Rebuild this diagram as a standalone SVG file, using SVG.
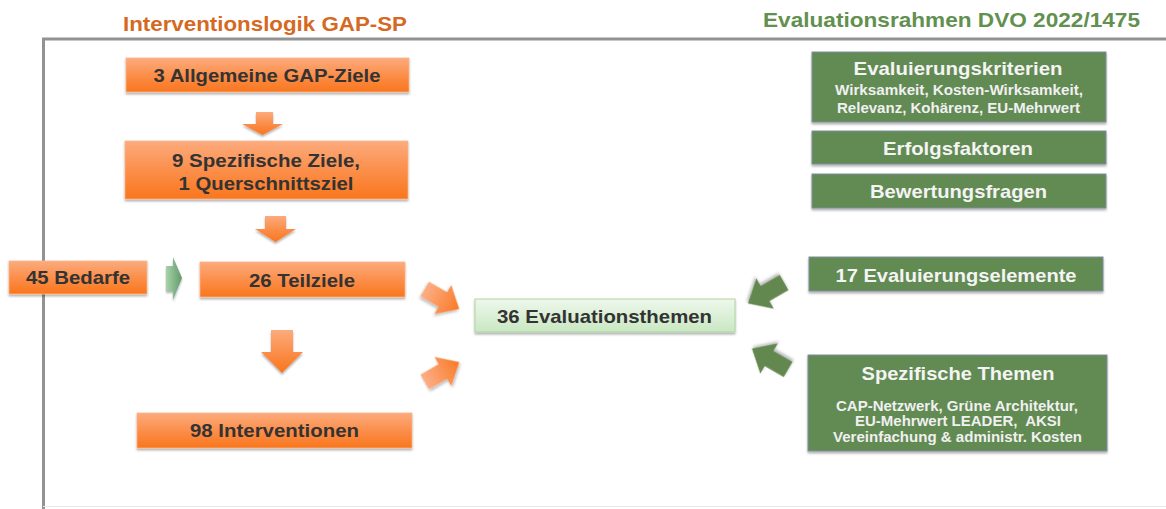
<svg xmlns="http://www.w3.org/2000/svg" xmlns:xlink="http://www.w3.org/1999/xlink" width="1166" height="509" viewBox="0 0 1166 509">
<defs>
<style>
text{font-family:"Liberation Sans",Arial,sans-serif;font-weight:bold;text-anchor:middle}
.ot{fill:#333333;font-size:19px}
.gt{fill:#f4f4f4;font-size:18.5px}
.gs{fill:#f0f0f0;font-size:14px}
.ob{fill:url(#og);stroke:#f9b48a;stroke-width:0.8;filter:url(#sh)}
.gb{fill:#628a53;stroke:#7d8e9e;stroke-width:1;filter:url(#sh)}
.frame{stroke:#929292;stroke-width:3;fill:none}
</style>
<linearGradient id="og" x1="0" y1="0" x2="0" y2="1">
<stop offset="0" stop-color="#fcab7d"/>
<stop offset="0.55" stop-color="#fb8c46"/>
<stop offset="1" stop-color="#f9761d"/>
</linearGradient>
<linearGradient id="oa" x1="0" y1="0" x2="1" y2="0">
<stop offset="0" stop-color="#fcae86"/>
<stop offset="1" stop-color="#f97a26"/>
</linearGradient>
<linearGradient id="lg" x1="0" y1="0" x2="0" y2="1">
<stop offset="0" stop-color="#eef8ec"/>
<stop offset="1" stop-color="#c9e7c2"/>
</linearGradient>
<linearGradient id="ga" x1="0" y1="0" x2="1" y2="0">
<stop offset="0" stop-color="#a9d3a9"/>
<stop offset="1" stop-color="#5f9a6c"/>
</linearGradient>
<filter id="sh" x="-5%" y="-20%" width="110%" height="150%">
<feDropShadow dx="0" dy="2" stdDeviation="1.3" flood-color="#000" flood-opacity="0.3"/>
</filter>
<path id="blk" d="M-19,-8 L1,-8 L1,-16 L19,0 L1,16 L1,8 L-19,8 Z"/>
</defs>

<g id="frame">
<line class="frame" x1="42" y1="39" x2="1166" y2="39"/>
<line class="frame" x1="43.5" y1="38" x2="43.5" y2="509"/>
<line x1="43" y1="506.5" x2="1166" y2="506.5" stroke="#e8e8e8" stroke-width="1"/>
</g>

<g id="titles">
<text x="265" y="31" font-size="20.5" fill="#d5691f" textLength="284" lengthAdjust="spacingAndGlyphs">Interventionslogik GAP-SP</text>
<text x="951.5" y="27" font-size="20.5" fill="#62904f" textLength="377" lengthAdjust="spacingAndGlyphs">Evaluationsrahmen DVO 2022/1475</text>
</g>

<g id="connectors">
<polygon points="256,112 273,112 273,124 283,124 262.5,135 242,124 256,124" fill="url(#og)" filter="url(#sh)"/>
<polygon points="265,216 286,216 286,229 296,229 275.5,242 255,229 265,229" fill="url(#og)" filter="url(#sh)"/>
<polygon points="271,330 293,330 293,352 303,352 282,373 261,352 271,352" fill="url(#og)" filter="url(#sh)"/>
<polygon points="166,266 173,266 173,257 182,278 173,300 173,291 166,291" fill="url(#ga)" filter="url(#sh)"/>
<use xlink:href="#blk" transform="translate(442,299) rotate(30) scale(1.05)" fill="url(#oa)" filter="url(#sh)"/>
<use xlink:href="#blk" transform="translate(442,372) rotate(-30) scale(1.05)" fill="url(#oa)" filter="url(#sh)"/>
<use xlink:href="#blk" transform="translate(766,293) rotate(150) scale(1.1)" fill="#62874f" filter="url(#sh)"/>
<use xlink:href="#blk" transform="translate(770,359) rotate(210) scale(1.1)" fill="#62874f" filter="url(#sh)"/>
</g>

<g id="n-ziele">
<rect class="ob" x="126" y="58" width="283" height="34"/>
<text class="ot" x="267" y="81.5" textLength="227" lengthAdjust="spacingAndGlyphs">3 Allgemeine GAP-Ziele</text>
</g>
<g id="n-spezifisch">
<rect class="ob" x="125" y="141" width="283" height="58"/>
<text class="ot" x="266" y="166.5" textLength="188" lengthAdjust="spacingAndGlyphs">9 Spezifische Ziele,</text>
<text class="ot" x="266" y="190" textLength="175" lengthAdjust="spacingAndGlyphs">1 Querschnittsziel</text>
</g>
<g id="n-bedarfe">
<rect class="ob" x="9" y="261" width="138" height="33"/>
<text class="ot" x="78" y="284" textLength="104" lengthAdjust="spacingAndGlyphs">45 Bedarfe</text>
</g>
<g id="n-teilziele">
<rect class="ob" x="200" y="262" width="205" height="35"/>
<text class="ot" x="302" y="286.5" textLength="106" lengthAdjust="spacingAndGlyphs">26 Teilziele</text>
</g>
<g id="n-interventionen">
<rect class="ob" x="137" y="413" width="275" height="35"/>
<text class="ot" x="274.5" y="437" textLength="169" lengthAdjust="spacingAndGlyphs">98 Interventionen</text>
</g>
<g id="n-themen">
<rect x="475" y="299" width="260" height="33" fill="url(#lg)" stroke="#acd6a2" stroke-width="1" filter="url(#sh)"/>
<text class="ot" x="604.5" y="323" font-size="20" fill="#303030" textLength="215" lengthAdjust="spacingAndGlyphs">36 Evaluationsthemen</text>
</g>

<g id="g-kriterien">
<rect class="gb" x="812" y="52" width="294" height="70"/>
<text class="gt" x="958" y="75" textLength="209" lengthAdjust="spacingAndGlyphs">Evaluierungskriterien</text>
<text class="gs" x="959" y="94.5" textLength="248" lengthAdjust="spacingAndGlyphs">Wirksamkeit, Kosten-Wirksamkeit,</text>
<text class="gs" x="958.5" y="112.5" textLength="243" lengthAdjust="spacingAndGlyphs">Relevanz, Kohärenz, EU-Mehrwert</text>
</g>
<g id="g-erfolg">
<rect class="gb" x="812" y="131" width="294" height="33"/>
<text class="gt" x="958" y="155" textLength="150" lengthAdjust="spacingAndGlyphs">Erfolgsfaktoren</text>
</g>
<g id="g-fragen">
<rect class="gb" x="812" y="174" width="294" height="34"/>
<text class="gt" x="958.5" y="198" textLength="177" lengthAdjust="spacingAndGlyphs">Bewertungsfragen</text>
</g>
<g id="g-elemente">
<rect class="gb" x="809" y="257" width="294" height="34"/>
<text class="gt" x="956" y="281.5" textLength="241" lengthAdjust="spacingAndGlyphs">17 Evaluierungselemente</text>
</g>
<g id="g-spezifisch">
<rect class="gb" x="808" y="355" width="299" height="96"/>
<text class="gt" x="958" y="380" textLength="193" lengthAdjust="spacingAndGlyphs">Spezifische Themen</text>
<text class="gs" x="957" y="410.5" textLength="242" lengthAdjust="spacingAndGlyphs">CAP-Netzwerk, Grüne Architektur,</text>
<text class="gs" x="958" y="426" textLength="206" lengthAdjust="spacingAndGlyphs" xml:space="preserve">EU-Mehrwert LEADER,  AKSI</text>
<text class="gs" x="957.5" y="442" textLength="249" lengthAdjust="spacingAndGlyphs">Vereinfachung &amp; administr. Kosten</text>
</g>
</svg>
